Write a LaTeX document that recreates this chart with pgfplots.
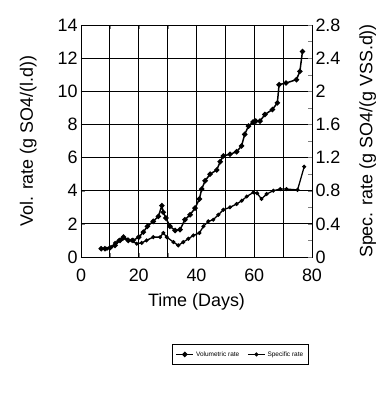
\documentclass[border=0pt]{standalone}
\usepackage{fontspec}
\setmainfont{Liberation Sans}
\usepackage{pgfplots}
\pgfplotsset{compat=1.18}
\begin{document}
\begin{tikzpicture}
\begin{axis}[
  scale only axis, width=231bp, height=232bp,
  at={(0,0)}, anchor=south west,
  xmin=0, xmax=80, ymin=0, ymax=14,
  xtick={0,10,...,80}, ytick={0,2,...,14},
  xticklabels={0,,20,,40,,60,,80},
  grid=major,
  grid style={black, line width=0.9pt},
  /pgf/number format/assume math mode=true,
  ticklabel style={font=\fontsize{18}{21}\selectfont},
  label style={font=\fontsize{18}{21}\selectfont},
  xticklabel style={yshift=-8bp},
  xlabel={Time (Days)},
  ylabel={Vol. rate (g SO4/(l.d))},
  xlabel style={yshift=-5bp},
  ylabel style={yshift=14bp},
]
\draw[black, line width=0.9pt] (axis cs:10,0) -- (axis cs:10,14);
\draw[black, line width=0.9pt] (axis cs:20,0) -- (axis cs:20,14);
\draw[black, line width=0.9pt] (axis cs:30,0) -- (axis cs:30,14);
\draw[black, line width=0.9pt] (axis cs:40,0) -- (axis cs:40,14);
\draw[black, line width=0.9pt] (axis cs:50,0) -- (axis cs:50,14);
\draw[black, line width=0.9pt] (axis cs:60,0) -- (axis cs:60,14);
\draw[black, line width=0.9pt] (axis cs:70,0) -- (axis cs:70,14);
\draw[black, line width=0.9pt] (axis cs:0,2) -- (axis cs:80,2);
\draw[black, line width=0.9pt] (axis cs:0,4) -- (axis cs:80,4);
\draw[black, line width=0.9pt] (axis cs:0,6) -- (axis cs:80,6);
\draw[black, line width=0.9pt] (axis cs:0,8) -- (axis cs:80,8);
\draw[black, line width=0.9pt] (axis cs:0,10) -- (axis cs:80,10);
\draw[black, line width=0.9pt] (axis cs:0,12) -- (axis cs:80,12);
\addplot[black, line width=1.5pt, mark=*, mark size=1.9pt] coordinates {
(7,0.5) (8.3,0.5) (10,0.55) (11.8,0.7) (13.5,1.0) (14.7,1.2) (16.4,1.0)
(18,1.0) (20,1.2) (21.6,1.5) (23,1.85) (25,2.15) (26.8,2.45) (28,3.1)
(28.5,2.7) (29.4,2.35) (30.8,1.85) (32.6,1.6) (34.3,1.65) (36,2.25)
(37.8,2.55) (39.5,2.95) (41,3.5) (41.8,4.1) (43,4.6) (44.7,5.0) (47,5.25)
(48.2,5.75) (49.3,6.1) (51.6,6.2) (53.9,6.35) (55.6,6.7) (56.7,7.4)
(58,7.9) (59.6,8.15) (60.5,8.2) (62,8.2) (63.7,8.6) (66.3,8.9) (68,9.3)
(68.6,10.4) (71,10.5) (74.6,10.7) (75.8,11.2) (76.7,12.4)
};
\end{axis}
\begin{axis}[
  scale only axis, width=231bp, height=232bp,
  at={(0,0)}, anchor=south west,
  xmin=0, xmax=80,
  /pgf/number format/assume math mode=true,
  ticklabel style={font=\fontsize{18}{21}\selectfont},
  label style={font=\fontsize{18}{21}\selectfont},
  axis y line*=right, axis x line=none,
  ymin=0, ymax=2.8,
  ytick={0,0.4,...,2.8},
  yticklabels={0,0.4,0.8,1.2,1.6,2,2.4,2.8},
  extra y ticks={0.2,0.6,1.0,1.4,1.8,2.2,2.6}, extra y tick labels={},
  ylabel={Spec. rate (g SO4/(g VSS.d))},
  ylabel style={yshift=-12bp},
  legend columns=2,
  legend style={at={(0.69,-0.42)}, anchor=center, draw=black,
    font=\fontsize{6.5}{7.5}\selectfont, inner xsep=3.5bp, inner ysep=5bp,
    /tikz/every even column/.append style={column sep=6bp}},
]
\addlegendimage{black, line width=1.5pt, mark=*, mark size=1.9pt}
\addlegendentry{Volumetric rate}
\addplot[black, line width=1.3pt, mark=*, mark size=1.3pt] coordinates {
(7,0.10) (9,0.10) (10.5,0.12) (11.8,0.17) (13,0.20) (14.5,0.22) (16,0.21)
(17.5,0.20) (19.3,0.16) (21,0.17) (22.7,0.20) (25,0.24) (27.4,0.24)
(28.5,0.29) (29.7,0.24) (32,0.18) (33.7,0.14) (35.4,0.18) (37.2,0.22)
(38.9,0.26) (41,0.29) (42.4,0.37) (44.1,0.43) (45.8,0.45) (47.6,0.51)
(49.3,0.57) (51.6,0.60) (53.9,0.64) (55.7,0.68) (57.4,0.73) (59.7,0.78)
(61,0.77) (62.5,0.70) (64.3,0.76) (66.6,0.80) (69,0.82) (71.2,0.82)
(75,0.81) (77.3,1.09)
};
\addlegendentry{Specific rate}
\end{axis}
\useasboundingbox (-81bp,-139bp) rectangle (306bp,257bp);
\end{tikzpicture}
\end{document}
